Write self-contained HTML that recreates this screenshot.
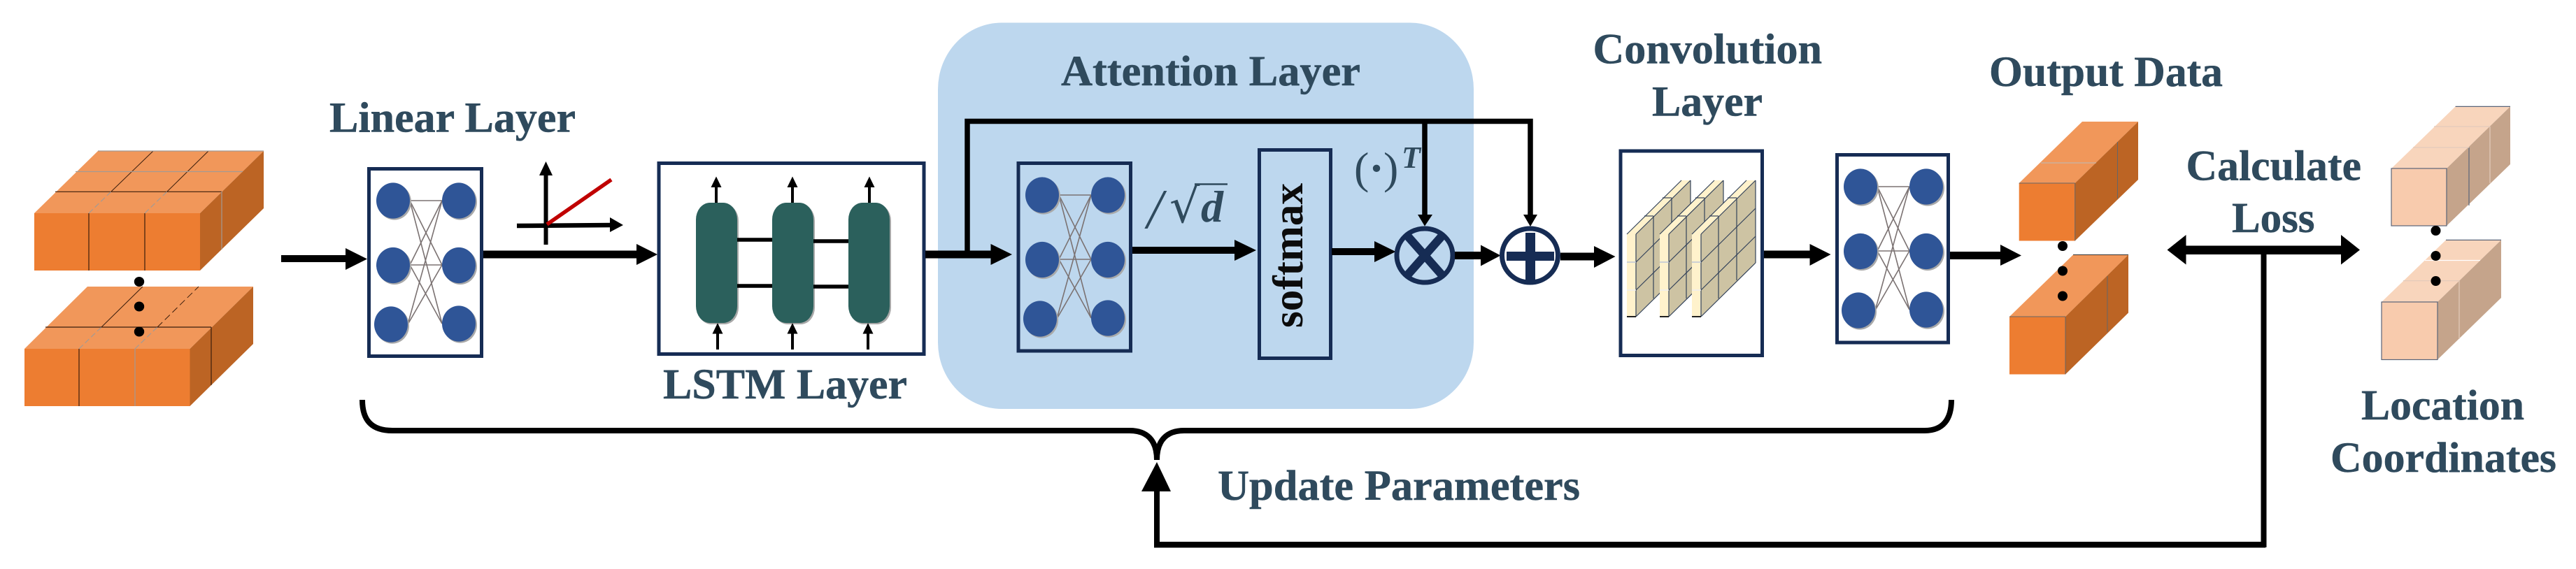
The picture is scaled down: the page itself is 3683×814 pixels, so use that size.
<!DOCTYPE html>
<html>
<head>
<meta charset="utf-8">
<style>
html,body{margin:0;padding:0;background:#fff;width:3683px;height:814px;overflow:hidden}
svg{display:block}
.t{font-family:"Liberation Serif",serif;font-weight:bold;font-size:61px;fill:#2f4a5d;stroke:#2f4a5d;stroke-width:.5}
.g{stroke:#7b7272;stroke-width:1.6;fill:none}
.k{stroke:#000;fill:none}
.n{fill:#162c54}
.d{stroke:#3a1d0c;stroke-width:1.2;fill:none}
.h{stroke:#a39a94;stroke-width:1.2;fill:none}
.of{fill:#ed7d31}.ot{fill:#f1975a}.os{fill:#bc6424}
.pf{fill:#f8cbad}.pt{fill:#f8d5bc}.ps{fill:#c5a48b}
.sl{fill:#fff2cc}.ss{fill:#cdc3a3}
</style>
</head>
<body>
<svg width="3683" height="814" viewBox="0 0 3683 814" xmlns="http://www.w3.org/2000/svg">
<defs>
<g id="nn">
<g class="g">
<line x1="24" y1="0" x2="70" y2="0"/><line x1="24" y1="0" x2="70" y2="92"/><line x1="24" y1="0" x2="70" y2="176"/>
<line x1="24" y1="92" x2="70" y2="0"/><line x1="24" y1="92" x2="70" y2="92"/><line x1="24" y1="92" x2="70" y2="176"/>
<line x1="21" y1="177" x2="70" y2="0"/><line x1="21" y1="177" x2="70" y2="92"/>
</g>
<g fill="#a9a9a9">
<ellipse cx="2" cy="2" rx="24" ry="25.6"/><ellipse cx="2" cy="94.5" rx="24" ry="25.6"/><ellipse cx="-1" cy="179" rx="24" ry="25.6"/>
<ellipse cx="96" cy="2" rx="24" ry="25.6"/><ellipse cx="96" cy="94.5" rx="24" ry="25.6"/><ellipse cx="96" cy="178" rx="24" ry="25.6"/>
</g>
<g fill="#2f5597">
<ellipse cx="0" cy="0" rx="24" ry="25.6"/><ellipse cx="0" cy="92.5" rx="24" ry="25.6"/><ellipse cx="-3" cy="177" rx="24" ry="25.6"/>
<ellipse cx="94" cy="0" rx="24" ry="25.6"/><ellipse cx="94" cy="92.5" rx="24" ry="25.6"/><ellipse cx="94" cy="176" rx="24" ry="25.6"/>
</g>
</g>
<g id="slab">
<polygon class="ss" points="13,0 91,-77 91,41 13,118"/>
<polygon class="sl" points="0,0 78,-77 91,-77 13,0"/>
<rect class="sl" x="0" y="0" width="13" height="118"/>
<g stroke="#33425a" stroke-width="1.2" fill="none">
<line x1="13" y1="40" x2="91" y2="-37"/><line x1="13" y1="80" x2="91" y2="3"/>
<line x1="38" y1="-26" x2="38" y2="92"/><line x1="64" y1="-52" x2="64" y2="66"/>
<line x1="25" y1="-26" x2="38" y2="-26"/><line x1="51" y1="-52" x2="64" y2="-52"/>
<line x1="91" y1="-77" x2="91" y2="41"/><line x1="13" y1="118" x2="91" y2="41"/>
<line x1="0" y1="0" x2="78" y2="-77"/><line x1="13" y1="0" x2="91" y2="-77"/>
<line x1="13" y1="0" x2="13" y2="118"/>
</g>
<line x1="0" y1="40" x2="13" y2="40" stroke="#bcc6d6" stroke-width="1.5"/>
<line x1="0" y1="80" x2="13" y2="80" stroke="#eee" stroke-width="1.5"/>
<line x1="0" y1="118" x2="13" y2="118" stroke="#222" stroke-width="2"/>
</g>
</defs>

<!-- attention background -->
<rect x="1341" y="32.5" width="766" height="552.5" rx="91" ry="95" fill="#bdd7ee"/>

<!-- input block top -->
<polygon class="ot" points="49,305 140,216 377,216 286,305"/>
<polygon class="os" points="286,305 377,216 377,298 286,387"/>
<rect class="of" x="49" y="305" width="237" height="82"/>
<g class="d">
<line x1="127" y1="305" x2="127" y2="387"/><line x1="207" y1="305" x2="207" y2="387"/>
<line x1="159" y1="274" x2="219" y2="216" stroke-width="1"/><line x1="239" y1="274" x2="298" y2="216" stroke-width="1"/>
<line x1="79" y1="274.3" x2="317" y2="274.3"/>
</g>
<g class="h">
<line x1="127" y1="305" x2="159" y2="274" stroke-dasharray="8 4"/><line x1="207" y1="305" x2="239" y2="274" stroke-dasharray="8 4"/>
<line x1="108" y1="245.5" x2="347" y2="245.5"/><line x1="317" y1="274" x2="317" y2="357"/>
<line x1="140" y1="216" x2="377" y2="216"/>
</g>
<!-- input block bottom -->
<polygon class="ot" points="35,499 125,410 362,410 271.5,499"/>
<polygon class="os" points="271.5,499 362,410 362,492 271.5,581"/>
<rect class="of" x="35" y="499" width="236.5" height="82"/>
<g class="d">
<line x1="113" y1="499" x2="113" y2="581"/>
<line x1="145" y1="468" x2="204" y2="410" stroke-width="1"/>
<line x1="225" y1="468" x2="284" y2="410" stroke-dasharray="10 5" stroke-width="1"/>
<line x1="65" y1="468" x2="302" y2="468"/><line x1="302" y1="468" x2="302" y2="551"/>
</g>
<g class="h">
<line x1="113" y1="499" x2="145" y2="468" stroke-dasharray="8 4"/><line x1="193" y1="499" x2="225" y2="468" stroke-dasharray="8 4"/>
<line x1="193" y1="499" x2="193" y2="581"/>
</g>
<g fill="#000"><ellipse cx="199" cy="403" rx="7.2" ry="7"/><ellipse cx="199" cy="438.5" rx="7.2" ry="7"/><ellipse cx="199" cy="474.5" rx="7.2" ry="7"/></g>

<!-- input arrow -->
<rect x="402" y="365" width="95" height="10" fill="#000"/>
<polygon points="494,355 525,370.5 494,386" fill="#000"/>

<!-- linear box -->
<rect x="527.5" y="241.5" width="161" height="268" fill="#fff" stroke="#162c54" stroke-width="5"/>
<use href="#nn" transform="translate(562,287)"/>

<!-- linear -> LSTM arrow -->
<rect x="691" y="358.5" width="222" height="11" fill="#000"/>
<polygon points="910,349 940,364 910,379" fill="#000"/>

<!-- graph -->
<line x1="780.5" y1="250" x2="780.5" y2="350" stroke="#000" stroke-width="6"/>
<polygon points="780.5,231 771,251 790,251" fill="#000"/>
<line x1="739" y1="323" x2="875" y2="322" stroke="#000" stroke-width="6.5"/>
<polygon points="872,311 891,322 872,332" fill="#000"/>
<line x1="782" y1="321" x2="874" y2="257" stroke="#c00000" stroke-width="5.5"/>

<!-- LSTM box -->
<rect x="942" y="233.5" width="379" height="273" fill="#fff" stroke="#162c54" stroke-width="5"/>
<g fill="#a8a8a8">
<rect x="997" y="292" width="59" height="172" rx="20" ry="24"/><rect x="1106" y="292" width="59" height="172" rx="20" ry="24"/><rect x="1215" y="292" width="59" height="172" rx="20" ry="24"/>
</g>
<g fill="#2b605c">
<rect x="995" y="290" width="59" height="172" rx="20" ry="24"/><rect x="1104" y="290" width="59" height="172" rx="20" ry="24"/><rect x="1213" y="290" width="59" height="172" rx="20" ry="24"/>
</g>
<g stroke="#000" stroke-width="5.5">
<line x1="1054" y1="343" x2="1104" y2="343"/><line x1="1054" y1="409" x2="1104" y2="409"/>
<line x1="1163" y1="345" x2="1213" y2="345"/><line x1="1163" y1="410" x2="1213" y2="410"/>
</g>
<g stroke="#000" stroke-width="4">
<line x1="1024" y1="266" x2="1024" y2="290"/><line x1="1133" y1="266" x2="1133" y2="290"/><line x1="1243" y1="266" x2="1243" y2="290"/>
<line x1="1026" y1="476" x2="1026" y2="500"/><line x1="1133" y1="476" x2="1133" y2="500"/><line x1="1241" y1="476" x2="1241" y2="500"/>
</g>
<g fill="#000">
<polygon points="1024,252.5 1016.5,268 1031.5,268"/><polygon points="1133,252.5 1125.5,268 1140.5,268"/><polygon points="1243,252.5 1235.5,268 1250.5,268"/>
<polygon points="1026,462 1018.5,477.5 1033.5,477.5"/><polygon points="1133,462 1125.5,477.5 1140.5,477.5"/><polygon points="1241,462 1233.5,477.5 1248.5,477.5"/>
</g>

<!-- LSTM -> attention arrow + bypass -->
<rect x="1323" y="358.5" width="96" height="11" fill="#000"/>
<polygon points="1416.5,349 1447,364 1416.5,379" fill="#000"/>
<path d="M1383,360 V173.5 H2188 V308" class="k" stroke-width="7.5"/>
<line x1="2037" y1="173.5" x2="2037" y2="308" stroke="#000" stroke-width="7.5"/>
<polygon points="2027,307 2048,307 2037,323.5" fill="#000"/>
<polygon points="2178,307 2198,307 2188,324" fill="#000"/>

<!-- attention NN -->
<rect x="1456" y="233.5" width="160.5" height="268.5" fill="#bdd7ee" stroke="#162c54" stroke-width="5"/>
<use href="#nn" transform="translate(1490,279)"/>
<rect x="1619" y="353" width="148" height="10" fill="#000"/>
<polygon points="1765,343 1796,358 1765,373" fill="#000"/>

<!-- /sqrt(d) -->
<text x="1640" y="326" font-family="Liberation Serif,serif" font-size="80" fill="#2f4a5d" font-style="italic">/</text>
<text x="1672" y="318" font-family="DejaVu Sans,sans-serif" font-size="68" fill="#2f4a5d">√</text>
<line x1="1708" y1="263.5" x2="1755" y2="263.5" stroke="#2f4a5d" stroke-width="2.5"/>
<text x="1717" y="317" font-family="Liberation Serif,serif" font-size="64" font-weight="bold" font-style="italic" fill="#2f4a5d">d</text>

<!-- softmax -->
<rect x="1800.5" y="214.5" width="102" height="298" fill="#bdd7ee" stroke="#162c54" stroke-width="5"/>
<text transform="translate(1862,469) rotate(-90)" x="0" y="0" font-family="Liberation Serif,serif" font-weight="bold" font-size="61" fill="#0c0c0c" textLength="207" lengthAdjust="spacingAndGlyphs">softmax</text>

<!-- softmax -> otimes -->
<rect x="1904" y="355" width="63" height="10" fill="#000"/>
<polygon points="1965,345 1995.5,360 1965,375" fill="#000"/>

<!-- (.)^T -->
<text x="1936" y="262" font-family="Liberation Serif,serif" font-size="64" fill="#2f4a5d">(</text>
<text x="1978" y="262" font-family="Liberation Serif,serif" font-size="64" fill="#2f4a5d">)</text>
<text x="1968" y="262" text-anchor="middle" font-family="Liberation Serif,serif" font-size="64" font-weight="bold" fill="#2f4a5d">·</text>
<text x="2004" y="240" font-family="Liberation Serif,serif" font-size="44" font-weight="bold" font-style="italic" fill="#2f4a5d">T</text>

<!-- otimes -->
<ellipse cx="2037" cy="365.5" rx="40" ry="38.5" fill="none" stroke="#162c54" stroke-width="7"/>
<g stroke="#162c54" stroke-width="12">
<line x1="2011" y1="336" x2="2063" y2="395"/><line x1="2063" y1="336" x2="2011" y2="395"/>
</g>
<!-- otimes -> oplus -->
<rect x="2080" y="360" width="39" height="11" fill="#000"/>
<polygon points="2117,350.5 2145.5,365.5 2117,380.5" fill="#000"/>
<!-- oplus -->
<ellipse cx="2187.5" cy="365.5" rx="40" ry="38.5" fill="none" stroke="#162c54" stroke-width="7"/>
<rect x="2154" y="360" width="68" height="13" class="n"/>
<rect x="2181" y="333" width="14" height="69" class="n"/>
<!-- oplus -> conv -->
<rect x="2231" y="361.5" width="50" height="11" fill="#000"/>
<polygon points="2279,352 2309.5,367 2279,383" fill="#000"/>

<!-- conv box -->
<rect x="2317" y="216" width="202.5" height="292.5" fill="#fff" stroke="#162c54" stroke-width="5"/>
<use href="#slab" transform="translate(2326,335)"/>
<use href="#slab" transform="translate(2373,335)"/>
<use href="#slab" transform="translate(2419,335)"/>

<!-- conv -> nn3 -->
<rect x="2522" y="358.5" width="68" height="11" fill="#000"/>
<polygon points="2587.5,349 2617.5,364 2587.5,380" fill="#000"/>

<!-- nn3 -->
<rect x="2626.5" y="221.5" width="159" height="268.5" fill="#fff" stroke="#162c54" stroke-width="5"/>
<use href="#nn" transform="translate(2660,267)"/>
<rect x="2788" y="360" width="74" height="11" fill="#000"/>
<polygon points="2860,350 2890,365.5 2860,380" fill="#000"/>

<!-- output blocks -->
<polygon class="ot" points="2886.7,262 2977,174 3057,174 2966.7,262"/>
<polygon class="os" points="2966.7,262 3057,174 3057,257 2966.7,344.5"/>
<rect class="of" x="2886.7" y="262" width="80" height="82.5"/>
<g stroke="#666" stroke-width="1" fill="none">
<line x1="2918" y1="233" x2="2997" y2="233" stroke="#bbb"/>
<line x1="3027.5" y1="203" x2="3027.5" y2="284"/>
<line x1="2886.7" y1="262" x2="2966.7" y2="262"/>
<line x1="2966.7" y1="262" x2="2966.7" y2="344.5"/>
</g>
<polygon class="ot" points="2873,453 2964,364.5 3043,364.5 2953,453"/>
<polygon class="os" points="2953,453 3043,364.5 3043,447.5 2953,535.5"/>
<rect class="of" x="2873" y="453" width="80" height="82.5"/>
<g stroke="#666" stroke-width="1" fill="none">
<line x1="3013" y1="395" x2="3013" y2="475"/>
<line x1="2873" y1="453" x2="2953" y2="453"/>
<line x1="2953" y1="453" x2="2953" y2="535.5"/>
<line x1="2964" y1="364.5" x2="3043" y2="364.5" stroke="#333"/>
</g>
<g fill="#000"><ellipse cx="2949" cy="352" rx="7" ry="7"/><ellipse cx="2949" cy="387.5" rx="7" ry="7"/><ellipse cx="2949" cy="423.5" rx="7" ry="7"/></g>

<!-- double arrow -->
<rect x="3122" y="351.5" width="228" height="12.5" fill="#000"/>
<polygon points="3098.5,357.5 3125.5,336 3125.5,378.5" fill="#000"/>
<polygon points="3374,357.5 3347,336 3347,378.5" fill="#000"/>

<!-- feedback path -->
<path d="M3236.5,364 V779 H1654 V700" class="k" stroke-width="8"/>
<rect x="1650" y="775" width="1589" height="8.5" fill="#000"/>
<polygon points="1654,661 1632,703 1674,703" fill="#000"/>

<!-- brace -->
<path d="M518,572 C518,600 530,616 561,616 L1615,616 C1640,616 1654,630 1654,658 C1654,630 1668,616 1693,616 L2752,616 C2778,616 2790,600 2790,572" class="k" stroke-width="8"/>

<!-- peach blocks -->
<polygon class="pt" points="3419,241 3510.6,152.4 3589,152.4 3498,241"/>
<polygon class="ps" points="3498,241 3589,152.4 3589,235 3498,323"/>
<rect class="pf" x="3419" y="241" width="79" height="82"/>
<g stroke="#5a6478" stroke-width="1.2" fill="none">
<rect x="3419" y="241" width="79" height="82"/>
<line x1="3510.6" y1="152.4" x2="3589" y2="152.4"/>
<line x1="3530" y1="211" x2="3530" y2="294"/>
</g>
<g stroke="#e3cbbb" stroke-width="1.2" fill="none">
<line x1="3480" y1="181" x2="3560" y2="181"/>
<line x1="3450" y1="211" x2="3530" y2="211"/>
<line x1="3560" y1="181" x2="3560" y2="262"/>
</g>
<polygon class="pt" points="3405,432 3497,343.4 3576,343.4 3485,432"/>
<polygon class="ps" points="3485,432 3576,343.4 3576,426 3485,514.5"/>
<rect class="pf" x="3405" y="432" width="80" height="82.5"/>
<g stroke="#5a6478" stroke-width="1.2" fill="none">
<rect x="3405" y="432" width="80" height="82.5"/>
<line x1="3497" y1="343.4" x2="3576" y2="343.4"/>
</g>
<g stroke="#e3cbbb" stroke-width="1.2" fill="none">
<line x1="3467" y1="372.5" x2="3546" y2="372.5" stroke="#fff"/>
<line x1="3436" y1="401.6" x2="3516" y2="401.6"/>
<line x1="3516" y1="401.6" x2="3516" y2="485"/>
</g>
<g fill="#000"><ellipse cx="3482.5" cy="330" rx="7" ry="7"/><ellipse cx="3482.5" cy="366" rx="7" ry="7"/><ellipse cx="3482.5" cy="402" rx="7" ry="7"/></g>

<!-- labels -->
<text class="t" x="471" y="188.5" textLength="352" lengthAdjust="spacingAndGlyphs">Linear Layer</text>
<text class="t" x="948" y="570" textLength="349" lengthAdjust="spacingAndGlyphs">LSTM Layer</text>
<text class="t" x="1517" y="122" textLength="428" lengthAdjust="spacingAndGlyphs">Attention Layer</text>
<text class="t" x="2277.5" y="90.5" textLength="327.5" lengthAdjust="spacingAndGlyphs">Convolution</text>
<text class="t" x="2362" y="165.5" textLength="158" lengthAdjust="spacingAndGlyphs">Layer</text>
<text class="t" x="2844" y="123" textLength="334" lengthAdjust="spacingAndGlyphs">Output Data</text>
<text class="t" x="3125.5" y="257.5" textLength="250.5" lengthAdjust="spacingAndGlyphs">Calculate</text>
<text class="t" x="3191" y="332" textLength="118.5" lengthAdjust="spacingAndGlyphs">Loss</text>
<text class="t" x="3376" y="600" textLength="233" lengthAdjust="spacingAndGlyphs">Location</text>
<text class="t" x="3332" y="675" textLength="323" lengthAdjust="spacingAndGlyphs">Coordinates</text>
<text class="t" x="1741" y="715" textLength="518" lengthAdjust="spacingAndGlyphs">Update Parameters</text>
</svg>
</body>
</html>
